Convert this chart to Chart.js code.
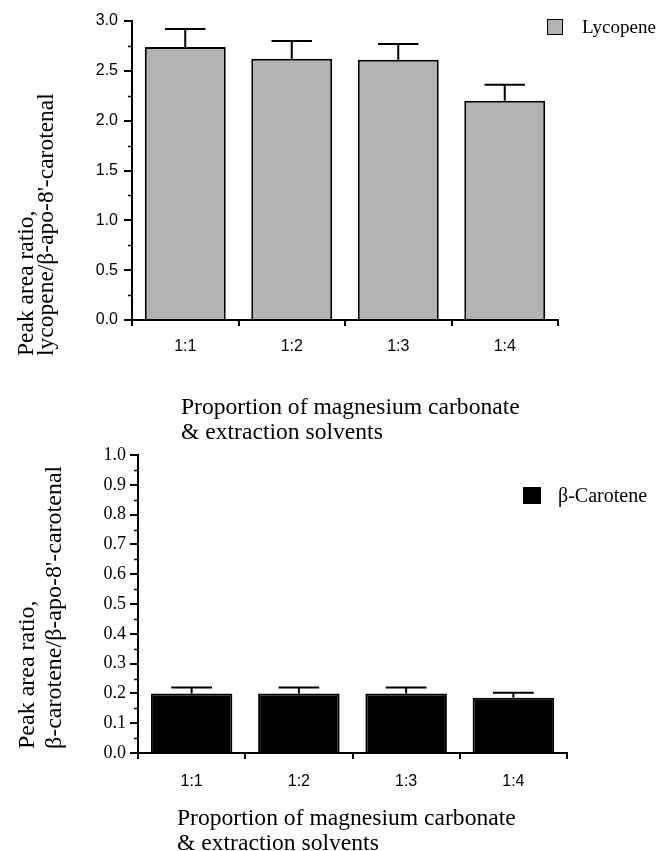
<!DOCTYPE html>
<html>
<head>
<meta charset="utf-8">
<script src="https://cdn.jsdelivr.net/npm/chart.js@4.4.1/dist/chart.umd.min.js"></script>
<style>
  body { margin: 0; background: #fff; }
  #page { position: relative; width: 660px; height: 851px; overflow: hidden; font-family: "Liberation Serif", "Times New Roman", serif; color: #000; }
  canvas { position: absolute; left: 0; }
  .ytitle { position: absolute; white-space: nowrap; transform-origin: 0 0; transform: rotate(-90deg); }
  .xtitle { position: absolute; white-space: nowrap; font-size: 23.6px; line-height: 25px; }
  .legend { position: absolute; white-space: nowrap; }
  .swatch { position: absolute; box-sizing: border-box; border: 1px solid #000; }
</style>
</head>
<body>
<div id="page">
  <canvas id="topChart" width="660" height="425" style="top:0"></canvas>
  <canvas id="bottomChart" width="660" height="426" style="top:425px"></canvas>

  <div class="ytitle" style="left:15px; top:356px; font-size:23.5px; line-height:20px;">Peak area ratio,<br>lycopene/β-apo-8'-carotenal</div>
  <div class="xtitle" style="left:181px; top:394px;">Proportion of magnesium carbonate<br>&amp; extraction solvents</div>
  <div class="swatch" style="left:547px; top:19px; width:16px; height:16px; background:#b3b3b3;"></div>
  <div class="legend" style="left:582px; top:15px; font-size:19px; line-height:24px;">Lycopene</div>

  <div class="ytitle" style="left:13px; top:749px; font-size:24px; line-height:27px;">Peak area ratio,<br>β-carotene/β-apo-8'-carotenal</div>
  <div class="xtitle" style="left:177px; top:805px;">Proportion of magnesium carbonate<br>&amp; extraction solvents</div>
  <div class="swatch" style="left:523px; top:487px; width:18px; height:17px; background:#000;"></div>
  <div class="legend" style="left:558px; top:482px; font-size:20px; line-height:26px;">β-Carotene</div>
</div>

<script>
// ======= Data =======
const categories = ["1:1", "1:2", "1:3", "1:4"];

const lycopeneValues = [2.74, 2.62, 2.61, 2.20];
const lycopeneErrors = [0.18, 0.18, 0.16, 0.16];
const lycopeneTicks = [0, 0.5, 1.0, 1.5, 2.0, 2.5, 3.0];

const caroteneValues = [0.20, 0.20, 0.20, 0.185];
const caroteneErrors = [0.02, 0.02, 0.02, 0.017];
const caroteneTicks = [0, 0.1, 0.2, 0.3, 0.4, 0.5, 0.6, 0.7, 0.8, 0.9, 1.0];

// ======= Plugins =======
function makeErrorBars(values, errors) {
  return {
    id: "errorBars",
    afterDatasetsDraw(chart) {
      const ctx = chart.ctx;
      const y = chart.scales.y;
      const meta = chart.getDatasetMeta(0);
      ctx.save();
      ctx.strokeStyle = "#000";
      ctx.lineWidth = 2;
      meta.data.forEach((bar, i) => {
        const top = y.getPixelForValue(values[i] + errors[i]);
        const half = bar.width / 4;
        ctx.beginPath();
        ctx.moveTo(bar.x, bar.y);
        ctx.lineTo(bar.x, top);
        ctx.moveTo(bar.x - half, top);
        ctx.lineTo(bar.x + half, top);
        ctx.stroke();
      });
      ctx.restore();
    }
  };
}

// short ticks half way between the labelled ones
function makeMinorTicks(ticks) {
  return {
    id: "minorTicks",
    afterDraw(chart) {
      const ctx = chart.ctx;
      const y = chart.scales.y;
      const x0 = chart.chartArea.left;
      ctx.save();
      ctx.strokeStyle = "#000";
      ctx.lineWidth = 1.5;
      for (let i = 0; i < ticks.length - 1; i++) {
        const py = Math.round(y.getPixelForValue((ticks[i] + ticks[i + 1]) / 2)) + 0.5;
        ctx.beginPath();
        ctx.moveTo(x0 - 4, py);
        ctx.lineTo(x0, py);
        ctx.stroke();
      }
      ctx.restore();
    }
  };
}

// ======= Charts =======
function buildChart(el, cfg) {
  return new Chart(el, {
    type: "bar",
    data: {
      labels: categories,
      datasets: [{
        data: cfg.values,
        backgroundColor: cfg.fill,
        borderColor: "#000",
        borderWidth: 2,
        barPercentage: 0.76,
        categoryPercentage: 1
      }]
    },
    options: {
      responsive: false,
      animation: false,
      layout: { padding: cfg.padding },
      plugins: { legend: { display: false }, tooltip: { enabled: false } },
      scales: {
        x: {
          grid: { offset: true, drawOnChartArea: false, tickLength: 6, color: "#000", lineWidth: 2 },
          border: { color: "#000", width: 2 },
          ticks: { color: "#000", padding: cfg.xPad, font: { family: "Liberation Sans", size: 16 } },
          afterFit: (s) => { s.height = cfg.xHeight; }
        },
        y: {
          min: cfg.ticks[0],
          max: cfg.ticks[cfg.ticks.length - 1],
          afterBuildTicks: (s) => { s.ticks = cfg.ticks.map((v) => ({ value: v })); },
          grid: { drawOnChartArea: false, tickLength: 8, color: "#000", lineWidth: 2 },
          border: { color: "#000", width: 2 },
          ticks: {
            color: "#000",
            padding: cfg.yPad,
            font: cfg.yFont,
            callback: (v) => (+v).toFixed(1)
          },
          afterFit: (s) => { s.width = cfg.yWidth; }
        }
      }
    },
    plugins: [makeErrorBars(cfg.values, cfg.errors), makeMinorTicks(cfg.ticks)]
  });
}

buildChart(document.getElementById("topChart"), {
  values: lycopeneValues,
  errors: lycopeneErrors,
  ticks: lycopeneTicks,
  fill: "#b3b3b3",
  padding: { left: 0, right: 102, top: 21, bottom: 0 },
  yWidth: 132,
  xHeight: 105,
  xPad: 11,
  yPad: 6,
  yFont: { family: "Liberation Sans", size: 16 }
});

buildChart(document.getElementById("bottomChart"), {
  values: caroteneValues,
  errors: caroteneErrors,
  ticks: caroteneTicks,
  fill: "#000",
  padding: { left: 0, right: 93, top: 30, bottom: 0 },
  yWidth: 138,
  xHeight: 98,
  xPad: 13,
  yPad: 4,
  yFont: { family: "Liberation Serif", size: 18 }
});
</script>
</body>
</html>
